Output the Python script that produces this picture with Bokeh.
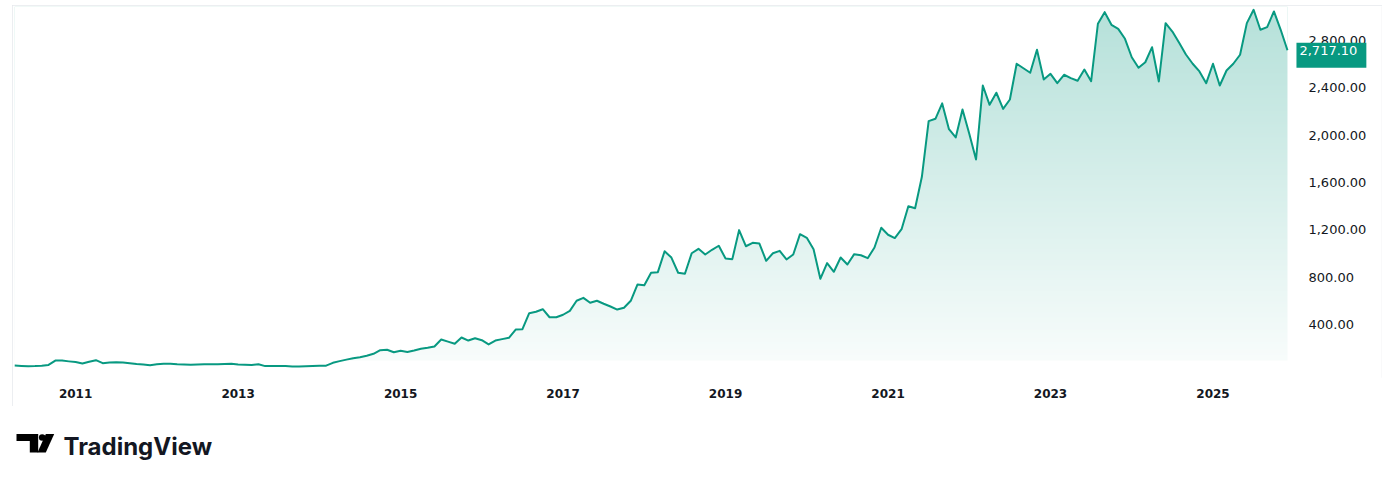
import numpy as np
import pandas as pd
from bokeh.plotting import figure
from bokeh.models import Range1d, FixedTicker, Label, ColumnDataSource
from bokeh.layouts import column
from bokeh.embed import file_html
from bokeh.resources import INLINE
from bokeh.core.properties import value

# ---------------- data ----------------
months = [p.strftime("%Y-%m") for p in pd.period_range("2010-04", "2025-12", freq="M")]

prices = [
    53, 50, 47, 48, 52, 58, 95, 95, 88,                      # 2010 Apr-Dec
    82, 70, 85, 98, 73, 78, 80, 79, 72, 65, 62, 56,          # 2011
    63, 67, 68, 64, 62, 60, 62, 63, 63, 64, 66, 68,          # 2012
    62, 60, 58, 64, 48, 50, 49, 48, 45, 45, 47, 49,          # 2013
    51, 52, 76, 90, 103, 115, 123, 135, 152, 183, 186, 165,  # 2014
    177, 168, 180, 194, 203, 214, 273, 255, 237, 290, 264, 284,  # 2015
    267, 231, 264, 276, 287, 357, 360, 495, 507, 529, 461, 461,  # 2016
    482, 515, 600, 625, 583, 600, 575, 552, 526, 541, 600, 738,  # 2017
    732, 837, 842, 1019, 965, 837, 828, 1002, 1039, 991, 1031, 1065,  # 2018
    957, 952, 1197, 1061, 1090, 1084, 938, 1002, 1022, 949, 991, 1163,  # 2019
    1132, 1036, 786, 918, 845, 966, 907, 994, 985, 960, 1050, 1217,  # 2020
    1158, 1130, 1205, 1399, 1382, 1648, 2118, 2138, 2268, 2050, 1980, 2216,  # 2021
    2011, 1794, 2419, 2256, 2358, 2222, 2301, 2603, 2565, 2527, 2721, 2470,  # 2022
    2518, 2439, 2510, 2481, 2459, 2554, 2456, 2941, 3039, 2932, 2898, 2814,  # 2023
    2658, 2569, 2616, 2743, 2453, 2946, 2875, 2780, 2681, 2603, 2538, 2439,  # 2024
    2603, 2419, 2546, 2603, 2679, 2946, 3059, 2890, 2912, 3045, 2890, 2717.10,  # 2025
]

year_labels = ["2011", "2013", "2015", "2017", "2019", "2021", "2023", "2025"]
price_ticks = [400, 800, 1200, 1600, 2000, 2400, 2800]

# ---------------- styling ----------------
TEAL = "#089981"
TEXT = "#131722"
FONT = "DejaVu Sans"

x = np.arange(len(prices))
vals = np.array(prices, dtype=float)
last_x = len(prices) - 1
tick_idx = [months.index(y + "-01") for y in year_labels]

# price-scale column sits to the right of the last bar (offsets in screen px)
SCALE_LABEL_OFFSET = 21
BADGE_OFFSET = 9

x_start, x_end = -0.177, last_x + 13.89
y_start, y_end = -48.2, 3086.8
fill_base = 95.0

p = figure(width=1370, height=401,
           x_range=Range1d(x_start, x_end), y_range=Range1d(y_start, y_end),
           output_backend="svg", toolbar_location=None,
           y_axis_location=None,
           min_border_left=1, min_border_right=1, min_border_top=1, min_border_bottom=29,
           background_fill_color="white", border_fill_color="white")
p.margin = (5, 0, 0, 12)
p.styles = {"outline": "1px solid #e6e8ec", "outline-offset": "-1px"}
p.outline_line_color = None
p.grid.visible = False

# gradient fill (image below the line, masked above the line with white)
N = 360
a = np.linspace(0.03, 0.30, N)
teal_rgb = np.array([8, 153, 129], dtype=float)
rgb = (255 * (1 - a[:, None]) + teal_rgb[None, :] * a[:, None]).round().astype(np.uint8)
img = np.empty((N, 1), dtype=np.uint32)
view = img.view(dtype=np.uint8).reshape((N, 1, 4))
view[:, 0, 0] = rgb[:, 0]
view[:, 0, 1] = rgb[:, 1]
view[:, 0, 2] = rgb[:, 2]
view[:, 0, 3] = 255
p.image_rgba(image=[img], x=0, y=fill_base, dw=last_x, dh=y_end - fill_base)
p.varea(x=x, y1=vals, y2=y_end, fill_color="white")
p.line(x, vals, line_color=TEAL, line_width=2, line_join="round")

# time axis
xa = p.xaxis[0]
xa.ticker = FixedTicker(ticks=tick_idx)
xa.major_label_overrides = {i: y for i, y in zip(tick_idx, year_labels)}
xa.major_label_text_font = FONT
xa.major_label_text_font_size = "12px"
xa.major_label_text_font_style = "bold"
xa.major_label_text_color = TEXT
xa.axis_line_color = None
xa.major_tick_line_color = None
xa.minor_tick_line_color = None
xa.major_label_standoff = 5

# price scale labels
scale_src = ColumnDataSource(dict(
    x=[last_x] * len(price_ticks),
    y=price_ticks,
    label=[f"{v:,.2f}" for v in price_ticks],
))
p.text(x="x", y="y", text="label", source=scale_src, x_offset=SCALE_LABEL_OFFSET,
       text_font=value(FONT), text_font_size="13px", text_color=TEXT,
       text_align="left", text_baseline="middle")

# last price badge
badge = Label(x=last_x, y=vals[-1], x_offset=BADGE_OFFSET, y_offset=-5,
              text=f"{prices[-1]:,.2f}",
              text_font=FONT, text_font_size="13px", text_color="white",
              text_align="left", text_baseline="middle",
              background_fill_color=TEAL, background_fill_alpha=1.0,
              padding=(3, 9, 3, 13))
p.add_layout(badge)

# ---------------- logo ----------------
LOGO_T_X = [15, 36.7, 36.7, 28.3, 28.3, 15]
LOGO_T_Y = [27.5, 27.5, 46, 46, 34.5, 34.5]
LOGO_SLASH_X = [44.3, 52.7, 44.3, 36.0]
LOGO_SLASH_Y = [27.5, 27.5, 46, 46]
LOGO_DOT = (40.7, 31.0, 3.3)
LOGO_TEXT = "TradingView"

lg = figure(frame_width=400, frame_height=60, x_range=Range1d(0, 400), y_range=Range1d(60, 0),
            output_backend="svg", toolbar_location=None,
            x_axis_location=None, y_axis_location=None,
            min_border=0, min_border_left=0, min_border_right=0,
            min_border_top=0, min_border_bottom=0,
            background_fill_color="white", border_fill_color="white")
lg.outline_line_color = None
lg.grid.visible = False
lg.patch(LOGO_T_X, LOGO_T_Y, fill_color="black", line_color=None)
lg.patch(LOGO_SLASH_X, LOGO_SLASH_Y, fill_color="black", line_color=None)
lg.circle(x=[LOGO_DOT[0]], y=[LOGO_DOT[1]], radius=LOGO_DOT[2], fill_color="black", line_color=None)
lg.text(x=[62], y=[40], text=[LOGO_TEXT], text_font=value("Inter"), text_font_style="bold",
        text_font_size="24px", text_color="#131722", text_baseline="alphabetic")

layout = column(p, lg, spacing=0)
open("out.html", "w").write(file_html(layout, INLINE))
